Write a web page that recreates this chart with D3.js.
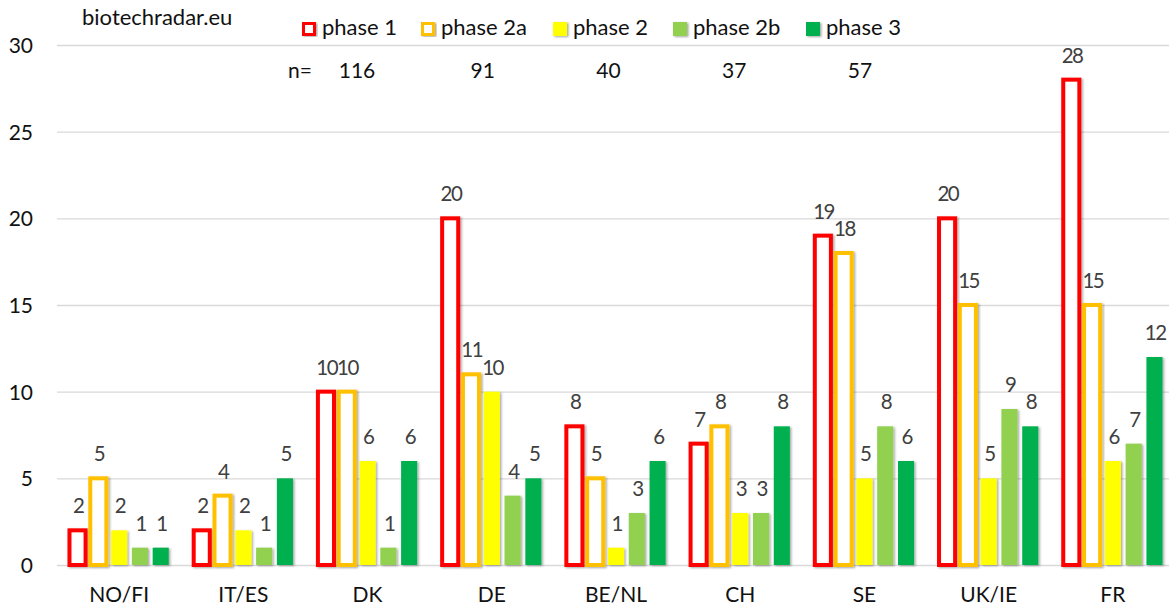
<!DOCTYPE html>
<html>
<head>
<meta charset="utf-8">
<script src="https://cdn.jsdelivr.net/npm/d3@7"></script>
<style>
  html, body { margin: 0; padding: 0; background: #fff; }
  svg { display: block; font-family: Lato, "Open Sans", sans-serif; }
</style>
</head>
<body>
<svg id="chart" width="1169" height="606"></svg>
<script>
// Countries / regions on the x axis
const categories = ["NO/FI", "IT/ES", "DK", "DE", "BE/NL", "CH", "SE", "UK/IE", "FR"];

// Clinical phases
const phases = ["phase 1", "phase 2a", "phase 2", "phase 2b", "phase 3"];

// Number of candidates per phase, one value per category
const phase1  = [2, 2, 10, 20, 8, 7, 19, 20, 28];
const phase2a = [5, 4, 10, 11, 5, 8, 18, 15, 15];
const phase2  = [2, 2, 6, 10, 1, 3, 5, 5, 6];
const phase2b = [1, 1, 1, 4, 3, 3, 8, 9, 7];
const phase3  = [1, 5, 6, 5, 6, 8, 6, 8, 12];

const yTicks = [0, 5, 10, 15, 20, 25, 30];

const seriesValues = [phase1, phase2a, phase2, phase2b, phase3];

const colors = ["#FF0000", "#FFC000", "#FFFF00", "#92D050", "#00B050"];
const outlined = [true, true, false, false, false];

const svg = d3.select("#chart");

// Drop shadow for the bars
const defs = svg.append("defs");
const f = defs.append("filter").attr("id", "shadow")
  .attr("x", "-30%").attr("y", "-10%").attr("width", "160%").attr("height", "130%");
f.append("feDropShadow").attr("dx", 1.5).attr("dy", 1).attr("stdDeviation", 1)
  .attr("flood-color", "#000").attr("flood-opacity", 0.35);

const plotLeft = 57, plotRight = 1169, plotTop = 45, plotBottom = 565;

const y = d3.scaleLinear().domain([0, 30]).range([plotBottom, plotTop]);
const x0 = d3.scaleBand().domain(categories).range([57, 1175]).paddingInner(0).paddingOuter(0);
const x1 = d3.scaleBand().domain(phases).range([0, x0.bandwidth()])
  .paddingInner(0.227).paddingOuter(0.6);

// Y axis with gridlines
const yAxis = d3.axisLeft(y).tickValues(yTicks).tickSize(-(plotRight - plotLeft)).tickPadding(24);
const gy = svg.append("g").attr("transform", `translate(${plotLeft},0)`).call(yAxis);
gy.select(".domain").remove();
gy.selectAll(".tick line").attr("stroke", "#D9D9D9").attr("stroke-width", 1.3);
gy.selectAll(".tick text").attr("fill", "#111").attr("font-size", 21)
  .attr("font-family", "Lato, sans-serif").attr("dy", "0.36em");

// X axis labels
const xAxis = d3.axisBottom(x0).tickSize(0).tickPadding(0);
const gx = svg.append("g").attr("transform", `translate(0,${plotBottom})`).call(xAxis);
gx.select(".domain").remove();
gx.selectAll(".tick text").attr("fill", "#111").attr("font-size", 21)
  .attr("font-family", "Lato, sans-serif").attr("dy", null).attr("y", 37);

// Bars
const data = [];
categories.forEach((c, ci) => {
  phases.forEach((p, pi) => {
    data.push({ cat: c, phase: p, pi, value: seriesValues[pi][ci] });
  });
});

const bars = svg.append("g");
bars.selectAll("rect").data(data).join("rect")
  .attr("x", d => x0(d.cat) + x1(d.phase))
  .attr("y", d => y(d.value))
  .attr("width", x1.bandwidth())
  .attr("height", d => y(0) - y(d.value))
  .attr("fill", d => outlined[d.pi] ? "#fff" : colors[d.pi])
  .attr("stroke", d => outlined[d.pi] ? colors[d.pi] : "none")
  .attr("stroke-width", d => outlined[d.pi] ? 4 : 0)
  .attr("filter", "url(#shadow)");

// Value labels (tight tracking so adjacent two-digit labels don't collide)
svg.append("g").selectAll("text").data(data).join("text")
  .attr("x", d => x0(d.cat) + x1(d.phase) + x1.bandwidth() / 2 + 0.75)
  .attr("y", d => y(d.value) - 17)
  .attr("text-anchor", "middle")
  .attr("font-size", 20.5)
  .attr("letter-spacing", -1.5)
  .attr("fill", "#404040")
  .text(d => d.value);

// Source
svg.append("text").attr("x", 82).attr("y", 25).attr("font-size", 22).attr("fill", "#111")
  .text("biotechradar.eu");

// Legend
const legendMarkerX = [302, 421, 553, 673, 806];
const lg = svg.append("g").selectAll("g").data(phases).join("g")
  .attr("transform", (d, i) => `translate(${legendMarkerX[i]},0)`);
lg.append("rect")
  .attr("x", (d, i) => outlined[i] ? 1.5 : 0)
  .attr("y", (d, i) => outlined[i] ? 23.5 : 22)
  .attr("width", (d, i) => outlined[i] ? 11 : 14)
  .attr("height", (d, i) => outlined[i] ? 11 : 14)
  .attr("fill", (d, i) => outlined[i] ? "#fff" : colors[i])
  .attr("stroke", (d, i) => outlined[i] ? colors[i] : "none")
  .attr("stroke-width", 3)
  .attr("filter", "url(#shadow)");
lg.append("text").attr("x", 20).attr("y", 35).attr("font-size", 22).attr("fill", "#111")
  .text(d => d);

// Totals per phase
const totals = seriesValues.map(s => d3.sum(s));
const nX = d3.scalePoint().domain(phases).range([357, 860]);
svg.append("text").attr("x", 288).attr("y", 78).attr("font-size", 21).attr("fill", "#111").text("n=");
svg.append("g").selectAll("text").data(totals).join("text")
  .attr("x", (d, i) => nX(phases[i]))
  .attr("y", 78)
  .attr("text-anchor", "middle")
  .attr("font-size", 21)
  .attr("fill", "#111")
  .text(d => d);
</script>
</body>
</html>
